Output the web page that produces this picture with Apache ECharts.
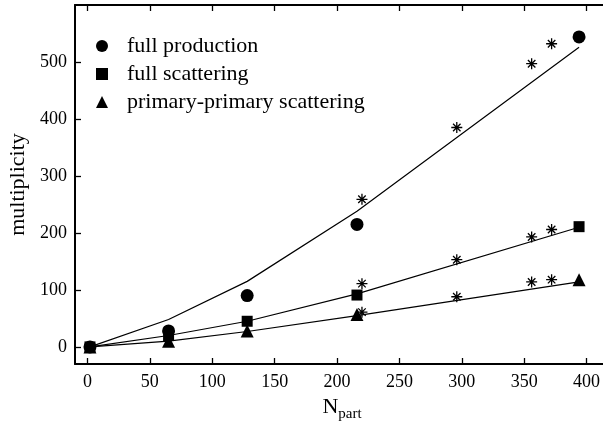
<!DOCTYPE html>
<html>
<head>
<meta charset="utf-8">
<script src="https://cdn.jsdelivr.net/npm/echarts@6/dist/echarts.min.js"></script>
<style>
  html, body { margin: 0; padding: 0; background: #fff; }
  #chart { width: 603px; height: 425px; }
</style>
</head>
<body>
<div id="chart"></div>
<script>
// measured points (markers)
const npartData = [2, 65, 128, 216, 394];
const fullProduction = [0, 28, 90, 215, 544];
const fullScattering = [0, 20, 45, 91, 211];
const primaryScattering = [0, 10, 28, 57, 118];

// model curves
const npartModel = [2, 65, 128, 216, 394];
const modelProduction = [0, 48, 115, 238, 526];
const modelScattering = [0, 20, 45, 93, 210];
const modelPrimary = [0, 10, 27, 55, 114];

// asterisk points
const npartStar = [220, 296, 356, 372];
const starProduction = [259, 385, 497, 532];
const starScattering = [111, 153, 193, 206];
const starPrimary = [61, 88, 114, 118];

const xTicks = [0, 50, 100, 150, 200, 250, 300, 350, 400];
const yTicks = [0, 100, 200, 300, 400, 500];

const FONT = '"Liberation Serif", "DejaVu Serif", serif';
const ASTERISK = 'path://M5,0L5,10M0,5L10,5M1.6,1.6L8.4,8.4M1.6,8.4L8.4,1.6';

const zip = (xs, ys) => xs.map((x, i) => [x, ys[i]]);

const chart = echarts.init(document.getElementById('chart'));

function lineSeries(ys) {
    return {
        type: 'line',
        data: zip(npartModel, ys),
        symbol: 'none',
        lineStyle: { color: '#000', width: 1.2 },
        silent: true,
        z: 1
    };
}

function markerSeries(name, symbol, size, ys) {
    return {
        name: name,
        type: 'scatter',
        data: zip(npartData, ys),
        symbol: symbol,
        symbolSize: size,
        itemStyle: { color: '#000', opacity: 1 },
        z: 3
    };
}

function starSeries(ys) {
    return {
        type: 'scatter',
        data: zip(npartStar, ys),
        symbol: ASTERISK,
        symbolSize: 11,
        itemStyle: { color: 'none', borderColor: '#000', borderWidth: 1.3, opacity: 1 },
        z: 2
    };
}

const axisCommon = {
    type: 'value',
    axisLine: { show: true, onZero: false, lineStyle: { color: '#000', width: 2 } },
    axisTick: { show: true, inside: true, length: 6, lineStyle: { color: '#000', width: 1.3 } },
    splitLine: { show: false }
};

chart.setOption({
    animation: false,
    backgroundColor: '#fff',
    grid: { left: 75, width: 534, top: 5, bottom: 61, outerBoundsMode: 'none', containLabel: false },
    legend: {
        orient: 'vertical',
        left: 91,
        top: 30,
        itemWidth: 12,
        itemHeight: 12,
        itemGap: 6,
        textStyle: { fontFamily: FONT, fontSize: 22, color: '#000', padding: [0, 0, 0, 14] },
        data: [
            { name: 'full production', icon: 'circle' },
            { name: 'full scattering', icon: 'rect' },
            { name: 'primary-primary scattering', icon: 'triangle' }
        ]
    },
    xAxis: [
        Object.assign({}, axisCommon, {
            min: -10, max: 418,
            position: 'bottom',
            axisTick: Object.assign({}, axisCommon.axisTick, { customValues: xTicks }),
            axisLabel: { customValues: xTicks, fontFamily: FONT, fontSize: 18, color: '#000', margin: 9 },
            name: '{n|N}{s|part}',
            nameLocation: 'middle',
            nameGap: 28,
            nameTextStyle: {
                rich: {
                    n: { fontFamily: FONT, fontSize: 22, color: '#000' },
                    s: { fontFamily: FONT, fontSize: 15, color: '#000', padding: [15, 0, 0, 0] }
                }
            }
        }),
        Object.assign({}, axisCommon, {
            min: -10, max: 418,
            position: 'top',
            axisTick: Object.assign({}, axisCommon.axisTick, { customValues: xTicks }),
            axisLabel: { show: false }
        })
    ],
    yAxis: [
        Object.assign({}, axisCommon, {
            min: -30, max: 600,
            position: 'left',
            axisTick: Object.assign({}, axisCommon.axisTick, { customValues: yTicks }),
            axisLabel: { customValues: yTicks, fontFamily: FONT, fontSize: 18, color: '#000', margin: 8 },
            name: 'multiplicity',
            nameLocation: 'middle',
            nameRotate: 90,
            nameGap: 44,
            nameTextStyle: { fontFamily: FONT, fontSize: 22, color: '#000' }
        }),
        Object.assign({}, axisCommon, {
            min: -30, max: 600,
            position: 'right',
            axisTick: Object.assign({}, axisCommon.axisTick, { customValues: yTicks }),
            axisLabel: { show: false }
        })
    ],
    series: [
        lineSeries(modelProduction),
        lineSeries(modelScattering),
        lineSeries(modelPrimary),
        markerSeries('full production', 'circle', 13, fullProduction),
        markerSeries('full scattering', 'rect', 11, fullScattering),
        markerSeries('primary-primary scattering', 'triangle', 13, primaryScattering),
        starSeries(starProduction),
        starSeries(starScattering),
        starSeries(starPrimary)
    ]
});
</script>
</body>
</html>
